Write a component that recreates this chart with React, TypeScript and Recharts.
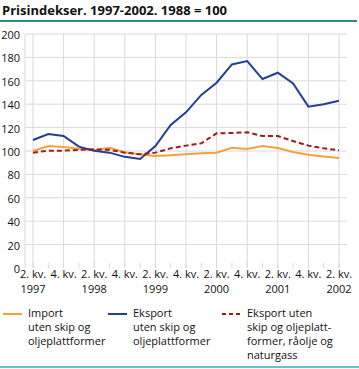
import React from 'react'
import { LineChart, Line, XAxis, YAxis, CartesianGrid } from 'recharts'

const quarters = [
  '2. kv. 1997', '3. kv. 1997', '4. kv. 1997',
  '1. kv. 1998', '2. kv. 1998', '3. kv. 1998', '4. kv. 1998',
  '1. kv. 1999', '2. kv. 1999', '3. kv. 1999', '4. kv. 1999',
  '1. kv. 2000', '2. kv. 2000', '3. kv. 2000', '4. kv. 2000',
  '1. kv. 2001', '2. kv. 2001', '3. kv. 2001', '4. kv. 2001',
  '1. kv. 2002', '2. kv. 2002',
]

const importValues = [
  100, 104.3, 103.4, 102, 100.6, 102.8, 98.9, 97.2, 95.7, 96.3, 97.3,
  98, 98.6, 102.8, 101.7, 104.3, 102.6, 99.1, 96.8, 95.4, 94,
]

const eksportValues = [
  109.4, 114.5, 112.8, 103.7, 100.3, 98.6, 95, 93.2, 104.3, 122.2, 133,
  147.9, 158.4, 174, 176.9, 161.5, 166.9, 157.8, 137.9, 139.9, 143,
]

const eksportUtenValues = [
  98.6, 100.3, 100.3, 101, 101.4, 101, 98.6, 97.2, 98.6, 102.3, 104.6,
  106.6, 115.1, 115.4, 116, 112.8, 112.8, 108.5, 104.6, 102.3, 100.6,
]

const yTicks = [0, 20, 40, 60, 80, 100, 120, 140, 160, 180, 200]

const legendItems = [
  { label: ['Import', 'uten skip og', 'oljeplattformer'], color: '#f6a13a', dashed: false, left: 3 },
  { label: ['Eksport', 'uten skip og', 'oljeplattformer'], color: '#233e95', dashed: false, left: 108 },
  { label: ['Eksport uten', 'skip og oljeplatt-', 'former, råolje og', 'naturgass'], color: '#9e1b1f', dashed: true, left: 222 },
]

const data = quarters.map((q, i) => ({
  q,
  imp: importValues[i],
  eks: eksportValues[i],
  eksUten: eksportUtenValues[i],
}))

const evenQuarters = quarters.filter((_, i) => i % 2 === 0)

const QuarterTick = ({ x, y, payload, index }: any) => {
  const [qNum, kv, year] = String(payload.value).split(' ')
  const show = index % 2 === 0
  return (
    <g>
      <line x1={x} x2={x} y1={y - 5} y2={y} stroke="#d9d9d9" strokeWidth={1} />
      {show && (
        <text x={x} y={y + 10} textAnchor="middle" fontSize={11} fill="#111">
          {`${qNum} ${kv}`}
        </text>
      )}
      {show && qNum === '2.' && (
        <text x={x} y={y + 25} textAnchor="middle" fontSize={11} fill="#111">
          {year}
        </text>
      )}
    </g>
  )
}

export default function App() {
  return (
    <div style={{
      position: 'absolute', left: 0, top: 0, width: 359, height: 369,
      background: '#fff', fontFamily: '"Open Sans", sans-serif', color: '#111',
    }}>
      <div style={{ position: 'absolute', left: 2, top: 1, fontSize: 13, fontWeight: 700, whiteSpace: 'nowrap' }}>
        Prisindekser. 1997-2002. 1988 = 100
      </div>
      <div style={{ position: 'absolute', left: 0, top: 20, width: 357, height: 2, background: '#2a8b82' }} />

      <div style={{ position: 'absolute', left: 0, top: 0 }}>
        <LineChart width={359} height={300} data={data} margin={{ top: 34, right: 12, left: 0, bottom: 0 }}>
          <CartesianGrid
            stroke="#d9d9d9"
            verticalValues={evenQuarters}
            horizontalValues={yTicks.filter((t) => t > 0)}
          />
          <XAxis
            dataKey="q"
            interval={0}
            height={32}
            padding={{ left: 8, right: 8 }}
            axisLine={false}
            tickLine={false}
            tickSize={0}
            tickMargin={0}
            tick={<QuarterTick />}
          />
          <YAxis
            width={25}
            domain={[0, 200]}
            ticks={yTicks}
            axisLine={{ stroke: '#d9d9d9' }}
            tickLine={false}
            tickSize={0}
            tickMargin={5}
            tick={{ fill: '#111', fontSize: 11, dy: 1 }}
          />
          <Line dataKey="imp" stroke="#f6a13a" strokeWidth={2} dot={false} isAnimationActive={false} />
          <Line dataKey="eks" stroke="#233e95" strokeWidth={2} dot={false} isAnimationActive={false} />
          <Line dataKey="eksUten" stroke="#9e1b1f" strokeWidth={2} strokeDasharray="5 3" dot={false} isAnimationActive={false} />
        </LineChart>
      </div>

      {legendItems.map((item) => (
        <div key={item.left} style={{ position: 'absolute', left: item.left, top: 306 }}>
          <svg width={20} height={14} style={{ position: 'absolute', left: 0, top: 0 }}>
            <line x1={0} x2={19} y1={8} y2={8} stroke={item.color} strokeWidth={2}
              strokeDasharray={item.dashed ? '4 3' : undefined} />
          </svg>
          <div style={{ position: 'absolute', left: 25, top: 0, fontSize: 11, lineHeight: '14px', whiteSpace: 'nowrap' }}>
            {item.label.map((l) => <div key={l}>{l}</div>)}
          </div>
        </div>
      ))}

      <div style={{ position: 'absolute', left: 0, top: 366, width: 359, height: 2, background: '#62c6c6' }} />
    </div>
  )
}
